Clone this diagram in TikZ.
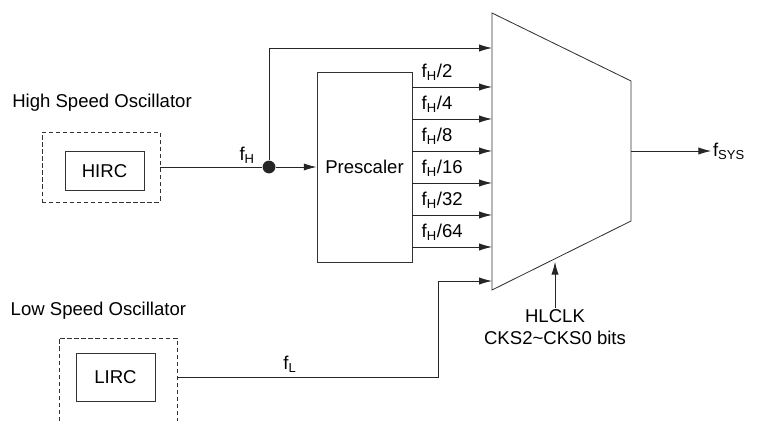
\documentclass[tikz,border=0pt]{standalone}
\usepackage{fontspec}
\setmainfont{Liberation Sans}
\usetikzlibrary{arrows.meta}
\begin{document}
\begin{tikzpicture}[font=\fontsize{13.2}{15.8}\selectfont, line width=0.6pt,
  >={Latex[length=3.2mm,width=1.8mm]},
  blk/.style={draw=black!80, inner sep=0pt},
  osc/.style={draw=black!80, dash pattern=on 3pt off 2pt},
  lbl/.style={inner sep=1pt}]
  \useasboundingbox (0,0) rectangle (19,10.525);
  % high speed oscillator
  \node[lbl] (hlab) at (2.55,7.95) {High Speed Oscillator};
  \node[osc, minimum width=2.95cm, minimum height=1.75cm] (hbox) at (2.525,6.35) {};
  \node[blk, minimum width=1.975cm, minimum height=0.975cm] (hirc) at (2.6125,6.24) {HIRC};
  % low speed oscillator, its box runs off the bottom edge
  \node[lbl] (llab) at (2.46,2.75) {Low Speed Oscillator};
  \draw[osc] (1.475,0) |- (4.425,2.075) -- (4.425,0);
  \coordinate (lout) at (4.425,1.1);
  \node[blk, minimum width=1.975cm, minimum height=1.2cm] (lirc) at (2.8875,1.1) {LIRC};
  % prescaler
  \node[blk, minimum width=2.375cm, minimum height=4.75cm] (presc) at (9.1125,6.35) {Prescaler};
  \node[circle, fill=black!85, inner sep=0pt, minimum size=0.32cm] (jn) at (6.725,6.35) {};
  \node[lbl] (fh) at (6.18,6.65) {f\textsubscript{H}};
  % clock select mux
  \coordinate (mtl) at (12.3,10.2);
  \coordinate (mtr) at (15.775,8.5);
  \coordinate (mbr) at (15.775,5.0);
  \coordinate (mbl) at (12.3,3.275);
  \draw[black!80] (mtl) -- (mtr) -- (mbr) -- (mbl) -- cycle;
  \coordinate (in0) at (12.3,9.325);
  \coordinate (inL) at (12.3,3.5);
  \coordinate (mout) at (15.775,6.75);
  \coordinate (msel) at (13.875,3.98);
  \node[lbl, anchor=west] (fsys) at (17.78,6.75) {f\textsubscript{SYS}};
  \node[lbl, align=center] (sel) at (13.875,2.35) {HLCLK\\CKS2\textasciitilde CKS0 bits};
  % connections
  \draw[black!85] (hbox.east) -- (jn);
  \draw[->, black!85] (jn) -- (presc.west);
  \draw[->, black!85] (jn) |- (in0);
  \foreach \d [count=\i] in {2,4,8,16,32,64} {
    \coordinate (in\i) at (12.3,{8.35-0.8*(\i-1)});
    \draw[->, black!85] (presc.east |- in\i) -- (in\i);
    \node[anchor=base west, inner sep=0pt] (div\i) at (10.53,{8.59-0.8*(\i-1)}) {f\textsubscript{H}/\d};
  }
  \draw[->, black!85] (lout) -| (10.95,3.5) -- (inL);
  \node[lbl] (fl) at (7.25,1.425) {f\textsubscript{L}};
  \draw[->, black!85] (mout) -- (fsys.west);
  \draw[->, black!85] (sel.north) -- (msel);
\end{tikzpicture}
\end{document}
